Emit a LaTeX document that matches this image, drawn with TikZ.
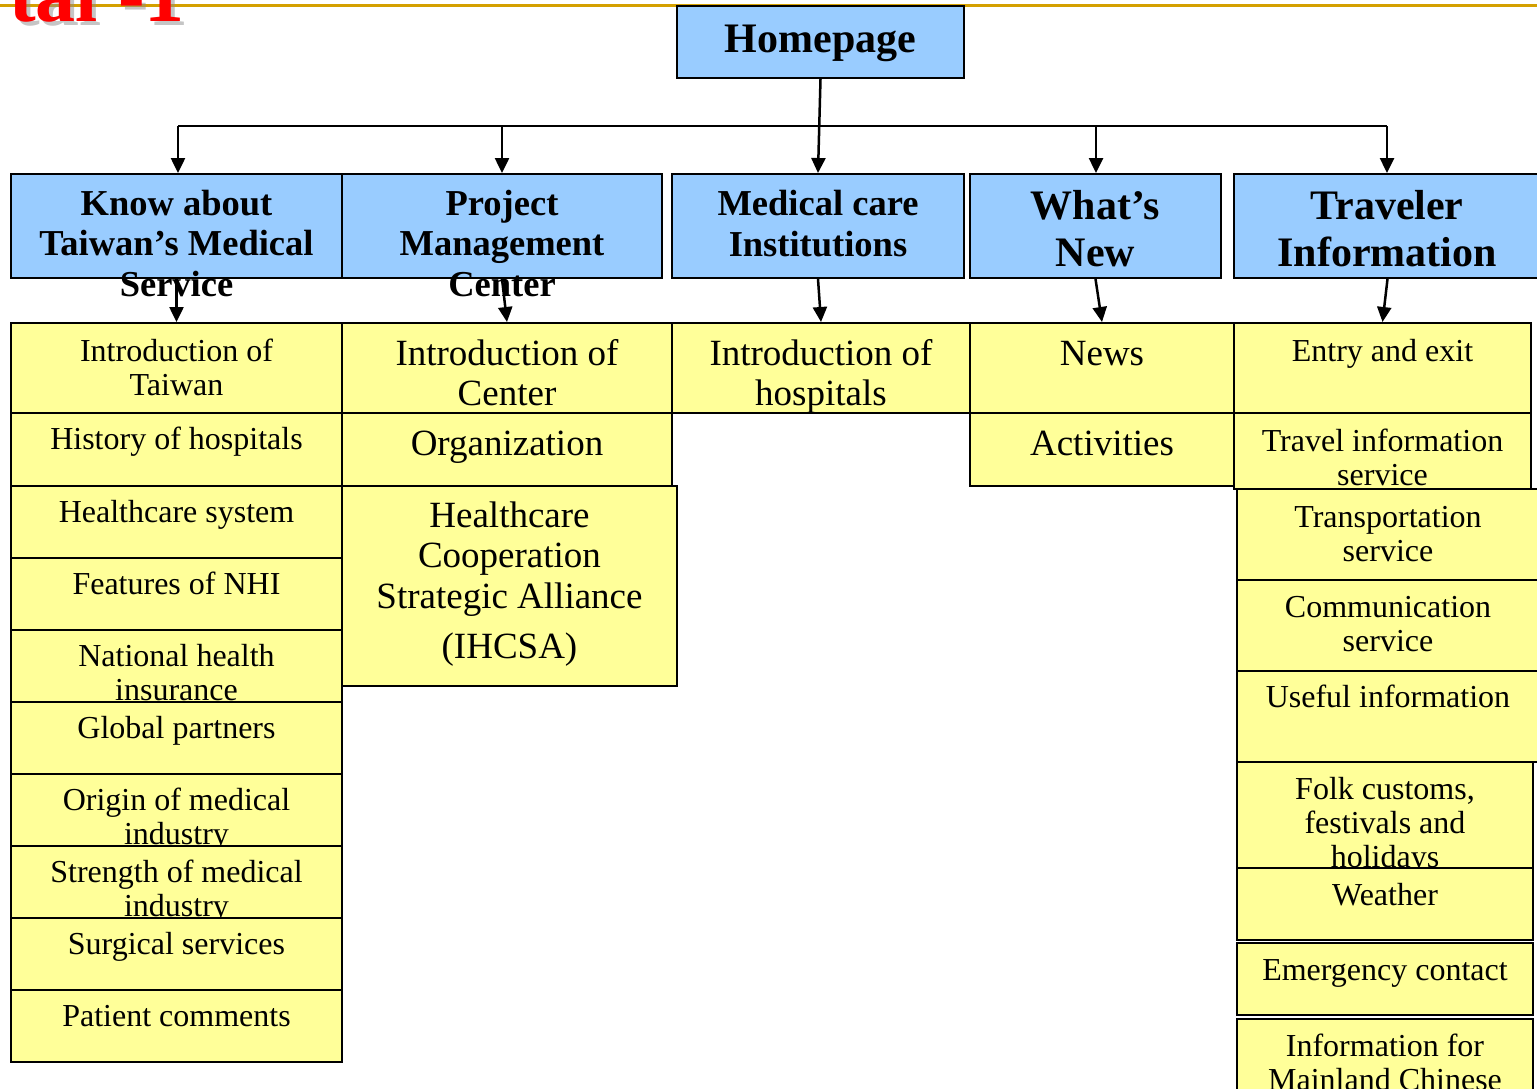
\documentclass[tikz,border=0pt]{standalone}
\usepackage{fontspec}
\setmainfont{Liberation Serif}
\usetikzlibrary{arrows.meta,fit}

\definecolor{hdrblue}{HTML}{99CCFF}
\definecolor{subyellow}{HTML}{FFFF99}
\definecolor{rulegold}{HTML}{D4A000}
\definecolor{titlered}{HTML}{FF0000}

\begin{document}
\begin{tikzpicture}[x=1pt,y=-1pt,
  cellbox/.style={draw=black, line width=2pt, inner sep=0pt},
  hdrbox/.style={cellbox, fill=hdrblue},
  subbox/.style={cellbox, fill=subyellow},
  % text nodes are placed by the baseline of their last line
  words/.style={anchor=base, align=center, inner sep=0pt, text=black},
  hometext/.style={words, font=\bfseries\fontsize{42}{47}\selectfont},
  hdrtext/.style={words, font=\bfseries\fontsize{36.5}{40.5}\selectfont},
  bighdrtext/.style={words, font=\bfseries\fontsize{42}{47}\selectfont},
  subtext/.style={words, font=\fontsize{32}{34}\selectfont},
  bigsubtext/.style={words, font=\fontsize{37}{40.5}\selectfont},
  link/.style={draw=black, line width=2.5pt},
  arr/.style={link, -{Triangle[length=15pt,width=14pt]}},
]
\useasboundingbox (0,0) rectangle (1537,1088);
\clip (0,0) rectangle (1537,1088);

% rule along the top edge and the slide title
\draw[rulegold, line width=3pt] (0,5.3) -- (1537,5.3);
\node[anchor=base east, inner sep=0pt, text=black!45, opacity=0.5,
      font=\bfseries\fontsize{80}{86}\selectfont] (titleshade) at (189,25) {tal -1};
\node[anchor=base east, inner sep=0pt, text=titlered,
      font=\bfseries\fontsize{80}{86}\selectfont] (title) at (185,21.5) {tal -1};

% root
\node[hdrbox, fit={(677,6) (964,78)}] (home) {};
\node[hometext] (homet) at (820.5,52) {Homepage};

% distribution bar
\coordinate (b1) at (178,126);
\coordinate (b2) at (502,126);
\coordinate (b4) at (1096,126);
\coordinate (b5) at (1387,126);

% section headers
\node[hdrbox, fit={(11,174) (342,278)}] (h1) {};
\node[hdrtext] (h1t) at (176.5,296) {Know about\\Taiwan’s Medical\\Service};
\node[hdrbox, fit={(342,174) (662,278)}] (h2) {};
\node[hdrtext] (h2t) at (502,296) {Project\\Management\\Center};
\node[hdrbox, fit={(672,174) (964,278)}] (h3) {};
\node[hdrtext] (h3t) at (818,256) {Medical care\\Institutions};
\node[hdrbox, fit={(970,174) (1221,278)}] (h4) {};
\node[bighdrtext] (h4t) at (1095.5,266) {What’s\\New};
\node[hdrbox, fit={(1234,174) (1541,278)}] (h5) {};
\node[bighdrtext] (h5t) at (1387,266) {Traveler\\Information};

% Know about Taiwan's Medical Service
\node[subbox, fit={(11,323) (342,413)}] (l1) {};
\node[subtext] (l1t) at (176.5,395) {Introduction of\\Taiwan};
\node[subbox, fit={(11,413) (342,486)}] (l2) {};
\node[subtext] (l2t) at (176.5,449) {History of hospitals};
\node[subbox, fit={(11,486) (342,558)}] (l3) {};
\node[subtext] (l3t) at (176.5,522) {Healthcare system};
\node[subbox, fit={(11,558) (342,630)}] (l4) {};
\node[subtext] (l4t) at (176.5,594) {Features of NHI};
\node[subbox, fit={(11,630) (342,702)}] (l5) {};
\node[subtext] (l5t) at (176.5,700) {National health\\insurance};
\node[subbox, fit={(11,702) (342,774)}] (l6) {};
\node[subtext] (l6t) at (176.5,738) {Global partners};
\node[subbox, fit={(11,774) (342,846)}] (l7) {};
\node[subtext] (l7t) at (176.5,844) {Origin of medical\\industry};
\node[subbox, fit={(11,846) (342,918)}] (l8) {};
\node[subtext] (l8t) at (176.5,916) {Strength of medical\\industry};
\node[subbox, fit={(11,918) (342,990)}] (l9) {};
\node[subtext] (l9t) at (176.5,954) {Surgical services};
\node[subbox, fit={(11,990) (342,1062)}] (l10) {};
\node[subtext] (l10t) at (176.5,1026) {Patient comments};

% Project Management Center
\node[subbox, fit={(342,323) (672,413)}] (p1) {};
\node[bigsubtext] (p1t) at (507,405.5) {Introduction of\\Center};
\node[subbox, fit={(342,413) (672,486)}] (p2) {};
\node[bigsubtext] (p2t) at (507,455) {Organization};
\node[subbox, fit={(342,486) (677,686)}] (p3) {};
\node[bigsubtext] (p3t) at (509.5,658.5) {Healthcare\\Cooperation\\Strategic Alliance\\[10pt](IHCSA)};

% Medical care Institutions
\node[subbox, fit={(672,323) (970,413)}] (m1) {};
\node[bigsubtext] (m1t) at (821,405.5) {Introduction of\\hospitals};

% What's New
\node[subbox, fit={(970,323) (1234,413)}] (w1) {};
\node[bigsubtext] (w1t) at (1102,365) {News};
\node[subbox, fit={(970,413) (1234,486)}] (w2) {};
\node[bigsubtext] (w2t) at (1102,455) {Activities};

% Traveler Information
\node[subbox, fit={(1234,323) (1531,413)}] (t1) {};
\node[subtext] (t1t) at (1382.5,361) {Entry and exit};
\node[subbox, fit={(1234,413) (1531,489)}] (t2) {};
\node[subtext] (t2t) at (1382.5,485) {Travel information\\service};
\node[subbox, fit={(1237,489) (1541,580)}] (t3) {};
\node[subtext] (t3t) at (1388,561) {Transportation\\service};
\node[subbox, fit={(1237,580) (1541,671)}] (t4) {};
\node[subtext] (t4t) at (1388,651) {Communication\\service};
\node[subbox, fit={(1237,671) (1541,762)}] (t5) {};
\node[subtext] (t5t) at (1388,707) {Useful information};
\node[subbox, fit={(1237,762) (1533,868)}] (t6) {};
\node[subtext] (t6t) at (1385,867) {Folk customs,\\festivals and\\holidays};
\node[subbox, fit={(1237,868) (1533,940)}] (t7) {};
\node[subtext] (t7t) at (1385,905) {Weather};
\node[subbox, fit={(1237,943) (1533,1015)}] (t8) {};
\node[subtext] (t8t) at (1385,980) {Emergency contact};
\node[subbox, fit={(1237,1019) (1533,1110)}] (t9) {};
\node[subtext] (t9t) at (1385,1090) {Information for\\Mainland Chinese};

% connectors
\draw[link] (b1) -- (b5);
\draw[arr] (home.south) -- (h3.north);
\draw[arr] (b1) -- (b1 |- h1.north);
\draw[arr] (b2) -- (b2 |- h2.north);
\draw[arr] (b4) -- (b4 |- h4.north);
\draw[arr] (b5) -- (b5 |- h5.north);
\draw[arr] (h1.south) -- (l1.north);
\draw[arr] (h2.south) -- (p1.north);
\draw[arr] (h3.south) -- (m1.north);
\draw[arr] (h4.south) -- (w1.north);
\draw[arr] (h5.south) -- (t1.north);
\end{tikzpicture}
\end{document}
